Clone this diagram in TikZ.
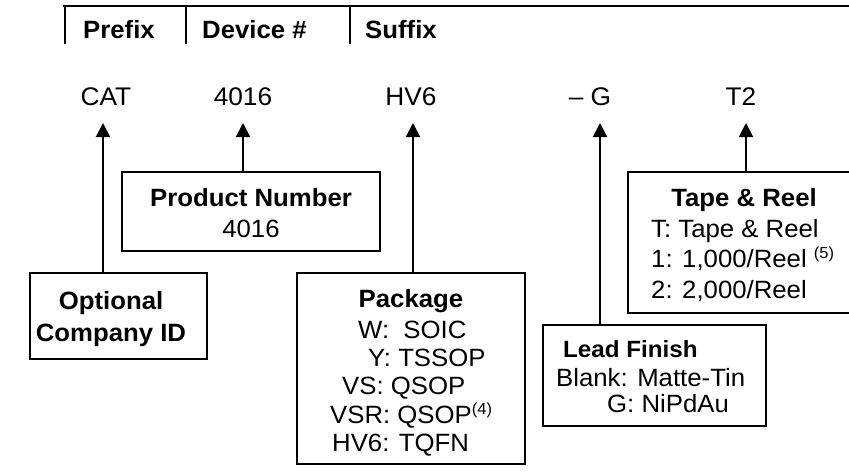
\documentclass[tikz,border=0pt]{standalone}
\usepackage{fontspec}
\setmainfont{Liberation Sans}[FakeStretch=1.03]
\usetikzlibrary{arrows.meta}
\tikzset{
  x=1pt, y=-1pt,
  box/.style={draw, line width=2pt, rectangle, inner sep=0pt},
  txt/.style={inner sep=0pt, anchor=base, font=\fontsize{25}{30}\selectfont},
  txtl/.style={txt, anchor=base west},
  bold/.style={font=\fontsize{25}{30}\selectfont\bfseries},
  smallbold/.style={font=\fontsize{23.5}{28}\selectfont\bfseries},
  rowtxt/.style={inner sep=0pt, anchor=base, font=\fontsize{25.5}{30}\selectfont},
  arr/.style={line width=2pt, -{Triangle[width=14pt,length=14pt]}},
  rule/.style={line width=2.2pt}
}
\newcommand{\supnote}[1]{\raisebox{8.5pt}{\fontsize{16}{16}\selectfont(#1)}}
\begin{document}
\begin{tikzpicture}
\useasboundingbox (0,0) rectangle (849,475);
% header
\draw[rule] (63,6) -- (870,6);
\draw[rule] (65,6) -- (65,44);
\draw[rule] (186,6) -- (186,44);
\draw[rule] (350,6) -- (350,44);
\node[txtl, bold] (hpre) at (83,38) {Prefix};
\node[txtl, bold] (hdev) at (202,38) {Device \#};
\node[txtl, bold] (hsuf) at (365,38) {Suffix};
% part number row
\node[rowtxt] (cat) at (106,105) {CAT};
\node[rowtxt] (num) at (243,105) {4016};
\node[rowtxt] (hv) at (411,105) {HV6};
\node[rowtxt] (g) at (590,105) {– G};
\node[rowtxt] (t2) at (741,105) {T2};
% arrow tips
\coordinate (tipcat) at (103,123);
\coordinate (tipnum) at (243,123);
\coordinate (tippkg) at (413,123);
\coordinate (tiplead) at (600,123);
\coordinate (tiptape) at (746,123);
% boxes
\node[box, minimum width=258pt, minimum height=79pt] (prod) at (251,211.5) {};
\node[box, minimum width=177pt, minimum height=86pt] (opt) at (118.5,316) {};
\node[box, minimum width=228pt, minimum height=191pt] (pkg) at (411,368.5) {};
\node[box, minimum width=223pt, minimum height=101pt] (lead) at (654.5,375.5) {};
\node[box, minimum width=234pt, minimum height=141pt] (tape) at (745,242.5) {};
% arrows
\draw[arr] (opt.north -| tipcat) -- (tipcat);
\draw[arr] (prod.north -| tipnum) -- (tipnum);
\draw[arr] (pkg.north -| tippkg) -- (tippkg);
\draw[arr] (lead.north -| tiplead) -- (tiplead);
\draw[arr] (tape.north -| tiptape) -- (tiptape);
% product number
\node[txt, bold] (prodt) at (251,206) {Product Number};
\node[txt] (prodv) at (251,237) {4016};
% optional
\node[txt, bold] (optt1) at (111,309) {Optional};
\node[txt, bold] (optt2) at (111,341) {Company ID};
% package
\node[txt, bold] (pkgt) at (411,307) {Package};
\node[txtl] (pk1) at (358,338) {W:\ \ SOIC};
\node[txtl] (pk2) at (368,366) {Y: TSSOP};
\node[txtl] (pk3) at (342,394) {VS: QSOP};
\node[txtl] (pk4) at (330,423) {VSR: QSOP\supnote{4}};
\node[txtl] (pk5) at (332,451) {HV6: TQFN};
% tape and reel
\node[txt, bold] (tapet) at (744,206) {Tape \& Reel};
\node[txtl] (tp1) at (651,237) {T: Tape \& Reel};
\node[txtl] (tp2) at (651,267) {1: 1,000/Reel \supnote{5}};
\node[txtl] (tp3) at (651,298) {2: 2,000/Reel};
% lead finish
\node[txtl, smallbold] (leadt) at (563,357) {Lead Finish};
\node[txtl] (ld1) at (556,386) {Blank: Matte-Tin};
\node[txtl] (ld2) at (607,412) {G: NiPdAu};
\end{tikzpicture}
\end{document}
